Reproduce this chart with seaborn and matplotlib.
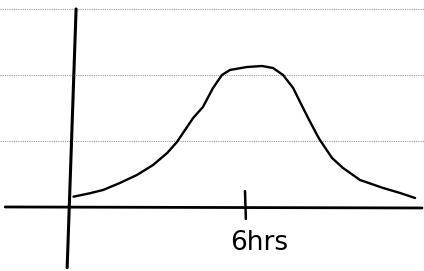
import matplotlib
matplotlib.use("Agg")
import matplotlib.pyplot as plt
import seaborn as sns
import pandas as pd

# hand-drawn curve (x in hours, y in ruled-line units)
hours = [0.05, 0.62, 1.08, 1.66, 2.25, 2.81, 3.30, 3.64, 3.92, 4.20, 4.54,
         4.89, 5.20, 5.48, 6.07, 6.59, 6.97, 7.32, 7.67, 7.91, 8.19, 8.50,
         8.60, 9.02, 9.40, 9.99, 10.79, 11.38, 11.90]
level = [0.156, 0.208, 0.258, 0.364, 0.485, 0.636, 0.818, 0.985, 1.167, 1.348, 1.515,
         1.803, 2.0, 2.076, 2.121, 2.136, 2.106, 2.0, 1.803, 1.591, 1.348, 1.091,
         1.015, 0.742, 0.591, 0.409, 0.288, 0.212, 0.136]
ruled_lines = [1, 2, 3]
tick_hour = 6
tick_label = "6hrs"

df = pd.DataFrame({"hours": hours, "level": level})

sns.set_theme(style="white")
plt.rcParams["font.family"] = ["DejaVu Sans"]

fig = plt.figure(figsize=(4.24, 2.71), dpi=100)
ax = fig.add_axes([0, 0, 1, 1])
ax.set_xlim(-2.5, 12.21)
ax.set_ylim(-0.97, 3.136)
ax.axis("off")

# ruled paper lines
for r in ruled_lines:
    ax.axhline(r, color="#9a9a9a", lw=0.8, ls=(0, (1, 1)), zorder=1)

# hand-drawn axes
ax.plot([0.14, -0.17], [3.0, -0.92], color="black", lw=2.2, solid_capstyle="round", zorder=3)
ax.plot([-2.32, 12.14], [0.0, -0.015], color="black", lw=2.0, solid_capstyle="round", zorder=3)
ax.plot([tick_hour, tick_hour + 0.03], [0.24, -0.18], color="black", lw=1.8, zorder=3)

sns.lineplot(data=df, x="hours", y="level", ax=ax, color="black", lw=1.7,
             sort=False, zorder=4)

ax.text(tick_hour + 0.5, -0.55, tick_label, ha="center", va="center",
        fontsize=19, color="black")

fig.savefig("out.png", dpi=100)
